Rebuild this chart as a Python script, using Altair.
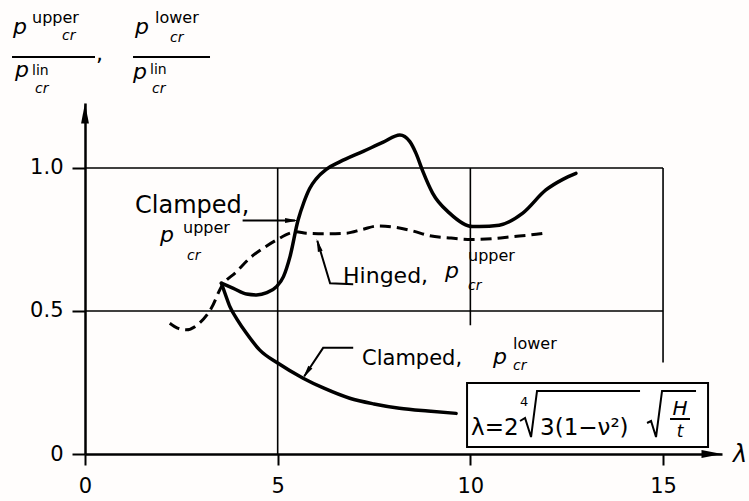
import altair as alt
import pandas as pd

# ---- buckling curves: lambda vs p_cr / p_cr^lin ----
lam_clamped_upper = [3.54, 3.85, 4.19, 4.45, 4.72, 4.97, 5.15, 5.32, 5.53, 5.68, 5.83, 6.0,
                     6.26, 6.61, 7.22, 7.74, 8.17, 8.43, 8.59, 8.77, 9.02, 9.46, 10.06, 10.23,
                     10.75, 11.36, 11.96, 12.4, 12.74]
p_clamped_upper = [0.597, 0.579, 0.559, 0.556, 0.564, 0.585, 0.62, 0.69, 0.818, 0.88, 0.928, 0.962,
                   0.995, 1.021, 1.058, 1.09, 1.115, 1.092, 1.051, 0.987, 0.912, 0.842, 0.795, 0.795,
                   0.80, 0.842, 0.923, 0.96, 0.981]

lam_hinged_upper = [2.2, 2.4, 2.63, 2.95, 3.28, 3.54, 3.93, 4.27, 4.62, 4.97, 5.32, 5.48, 5.74,
                    6.2, 6.78, 7.2, 7.6, 8.07, 8.5, 8.94, 9.5, 10.03, 10.6, 11.09, 11.5, 11.92]
p_hinged_upper = [0.457, 0.44, 0.434, 0.455, 0.51, 0.585, 0.637, 0.684, 0.719, 0.748, 0.772, 0.777, 0.772,
                  0.77, 0.772, 0.785, 0.797, 0.792, 0.78, 0.763, 0.755, 0.75, 0.753, 0.76, 0.765, 0.772]

lam_clamped_lower = [3.54, 3.65, 3.76, 3.95, 4.19, 4.53, 5.01, 5.66, 6.2, 6.87, 7.5, 8.16, 8.9, 9.63]
p_clamped_lower = [0.597, 0.555, 0.515, 0.47, 0.422, 0.364, 0.317, 0.265, 0.23, 0.195, 0.175, 0.16, 0.15, 0.142]

x_ticks = [0, 5, 10, 15]
y_ticks = [0, 0.5, 1.0]

FONT = "DejaVu Sans"
INK = "black"

xs = alt.Scale(domain=[0, 16.53], nice=False, zero=False)
ys = alt.Scale(domain=[0, 1.227], nice=False, zero=False)

x_axis = alt.Axis(values=x_ticks, title=None, grid=False, domainColor=INK, domainWidth=2.5,
                  tickColor=INK, tickWidth=2, tickSize=11, labelFont=FONT, labelFontSize=21,
                  labelColor=INK, labelPadding=10, labelOverlap=False, labelFlush=False,
                  format="d")
y_axis = alt.Axis(values=y_ticks, title=None, grid=False, domainColor=INK, domainWidth=2.5,
                  tickColor=INK, tickWidth=2, tickSize=13, labelFont=FONT, labelFontSize=21,
                  labelColor=INK, labelPadding=9, labelOverlap=False, labelFlush=False,
                  labelExpr="datum.value == 0 ? '0' : format(datum.value, '.1f')")


def X():
    return alt.X("x:Q", scale=xs, axis=x_axis)


def Y():
    return alt.Y("y:Q", scale=ys, axis=y_axis)


curves = pd.concat([
    pd.DataFrame({"x": lam_clamped_upper, "y": p_clamped_upper, "s": "Clamped, upper"}),
    pd.DataFrame({"x": lam_hinged_upper, "y": p_hinged_upper, "s": "Hinged, upper"}),
    pd.DataFrame({"x": lam_clamped_lower, "y": p_clamped_lower, "s": "Clamped, lower"}),
])

solid = alt.Chart(curves[curves.s != "Hinged, upper"]).mark_line(
    color=INK, strokeWidth=3.5, interpolate="monotone", strokeCap="round"
).encode(x=X(), y=Y(), detail="s:N")

dashed = alt.Chart(curves[curves.s == "Hinged, upper"]).mark_line(
    color=INK, strokeWidth=3, interpolate="monotone", strokeDash=[11, 6]
).encode(x=X(), y=Y())

# reference frame lines
frame = pd.DataFrame({
    "x": [0, 0, 5, 10, 15],
    "x2": [15, 15, 5, 10, 15],
    "y": [1.0, 0.5, 0, 0.45, 0.32],
    "y2": [1.0, 0.5, 1.0, 1.0, 1.0],
})
frame_rules = alt.Chart(frame).mark_rule(color=INK, strokeWidth=1.6).encode(
    x=X(), x2="x2:Q", y=Y(), y2="y2:Q")

# leader lines, fraction bars and the formula radicals
polys = pd.DataFrame([
    ("c_up", 0, 4.09, 0.816), ("c_up", 1, 5.45, 0.816),
    ("h_up", 0, 6.96, 0.593), ("h_up", 1, 6.36, 0.597), ("h_up", 2, 6.03, 0.745),
    ("c_lo", 0, 6.96, 0.371), ("c_lo", 1, 6.18, 0.371), ("c_lo", 2, 5.69, 0.272),
    ("fr", 0, -1.894, 1.388), ("fr", 1, 0.2595, 1.388),
    ("fr2", 0, 1.246, 1.388), ("fr2", 1, 3.244, 1.388),
    ("rad1", 0, 11.289, 0.1154), ("rad1", 1, 11.419, 0.1259), ("rad1", 2, 11.575, 0.0594),
    ("rad1", 3, 11.730, 0.2203), ("rad1", 4, 14.403, 0.2203),
    ("rad2", 0, 14.585, 0.1084), ("rad2", 1, 14.689, 0.1154), ("rad2", 2, 14.818, 0.0594),
    ("rad2", 3, 14.974, 0.2203), ("rad2", 4, 15.856, 0.2203),
    ("frac", 0, 15.181, 0.1224), ("frac", 1, 15.70, 0.1224),
], columns=["g", "o", "x", "y"])

box = pd.DataFrame({"x": [9.914], "x2": [16.168], "y": [0.0245], "y2": [0.248]})
formula_box = alt.Chart(box).mark_rect(fill="white", stroke=INK, strokeWidth=2).encode(
    x=X(), x2="x2:Q", y=Y(), y2="y2:Q")

leaders = alt.Chart(polys[~polys.g.isin(["rad1", "rad2", "frac"])]).mark_line(
    color=INK, strokeWidth=2).encode(x=X(), y=Y(), detail="g:N", order="o:Q")
radicals = alt.Chart(polys[polys.g.isin(["rad1", "rad2", "frac"])]).mark_line(
    color=INK, strokeWidth=2).encode(x=X(), y=Y(), detail="g:N", order="o:Q")

# arrowheads: tip sits on the point, rotated by angle (degrees, clockwise from up)
heads = pd.DataFrame({
    "x": [0, 16.53, 5.53, 6.01, 5.66],
    "y": [1.227, 0, 0.816, 0.752, 0.266],
    "angle": [0, 90, 90, 343.6, 213.7],
    "size": [420, 420, 170, 170, 170],
})
arrowheads = alt.Chart(heads).mark_point(
    shape="M0,0 L0.38,2 L-0.38,2 Z", filled=True, color=INK, opacity=1
).encode(x=X(), y=Y(), angle=alt.Angle("angle:Q", scale=None),
         size=alt.Size("size:Q", scale=None))

labels = pd.DataFrame([
    # text, x, y, font size, italic, align
    ("Clamped,", 1.298, 0.843, 24, 0, "left"),
    ("p", 1.946, 0.741, 22, 1, "left"),
    ("upper", 2.543, 0.772, 16, 0, "left"),
    ("cr", 2.647, 0.678, 14, 1, "left"),
    ("Hinged,", 6.696, 0.598, 22, 0, "left"),
    ("p", 9.343, 0.615, 22, 1, "left"),
    ("upper", 9.94, 0.674, 16, 0, "left"),
    ("cr", 9.94, 0.573, 14, 1, "left"),
    ("Clamped,", 7.189, 0.311, 21, 0, "left"),
    ("p", 10.588, 0.315, 22, 1, "left"),
    ("lower", 11.107, 0.366, 16, 0, "left"),
    ("cr", 11.107, 0.294, 14, 1, "left"),
    # ratio titles on the vertical axis
    ("p", -1.869, 1.4685, 22, 1, "left"),
    ("upper", -1.375, 1.507, 16, 0, "left"),
    ("cr", -0.597, 1.447, 14, 1, "left"),
    ("p", -1.817, 1.318, 22, 1, "left"),
    ("lin", -1.375, 1.325, 14, 0, "left"),
    ("cr", -1.298, 1.262, 14, 1, "left"),
    (",", 0.285, 1.374, 22, 0, "left"),
    ("p", 1.298, 1.4685, 22, 1, "left"),
    ("lower", 1.817, 1.507, 16, 0, "left"),
    ("cr", 2.206, 1.44, 14, 1, "left"),
    ("p", 1.246, 1.311, 22, 1, "left"),
    ("lin", 1.687, 1.329, 14, 0, "left"),
    ("cr", 1.739, 1.262, 14, 1, "left"),
    # formula
    ("λ=2", 10.017, 0.0664, 23, 0, "left"),
    ("4", 11.393, 0.168, 13, 0, "center"),
    ("3(1−ν²)", 11.808, 0.0664, 23, 0, "left"),
    ("H", 15.441, 0.1364, 20, 1, "center"),
    ("t", 15.441, 0.0594, 17, 1, "center"),
    # horizontal axis symbol
    ("λ", 16.817, -0.028, 24, 1, "left"),
], columns=["text", "x", "y", "fs", "italic", "align"])


def text_layers():
    layers = []
    for (italic, align, fs), df in labels.groupby(["italic", "align", "fs"]):
        layers.append(
            alt.Chart(df[["text", "x", "y"]]).mark_text(
                align=align, baseline="alphabetic", font=FONT, fontSize=int(fs),
                fontStyle="italic" if italic else "normal", color=INK
            ).encode(x=X(), y=Y(), text="text:N")
        )
    return layers


chart = alt.layer(
    frame_rules, solid, dashed, leaders, formula_box, radicals, arrowheads, *text_layers()
).properties(
    width=637, height=351,
    padding={"left": 85, "top": 103, "right": 27, "bottom": 47},
    autosize="none", background="#fffdfc",
).configure_view(stroke=None)

chart.save("out.html", embed_options={"renderer": "svg", "actions": False})
